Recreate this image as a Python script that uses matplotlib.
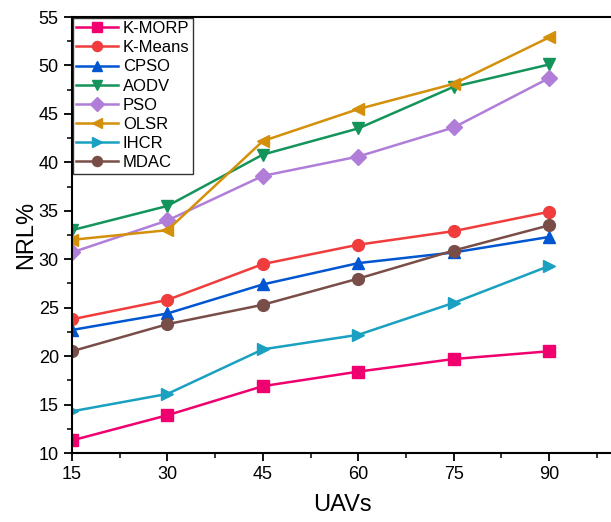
import matplotlib
matplotlib.use("Agg")
import matplotlib.pyplot as plt
from matplotlib.ticker import MultipleLocator

plt.rcParams['font.family'] = ['Liberation Sans', 'DejaVu Sans']

uavs = [15, 30, 45, 60, 75, 90]
k_morp = [11.3, 13.9, 16.9, 18.4, 19.7, 20.5]
k_means = [23.8, 25.8, 29.5, 31.5, 32.9, 34.9]
cpso = [22.7, 24.4, 27.4, 29.6, 30.7, 32.3]
aodv = [33.0, 35.5, 40.8, 43.5, 47.8, 50.1]
pso = [30.7, 34.0, 38.6, 40.6, 43.6, 48.7]
olsr = [32.0, 33.0, 42.2, 45.5, 48.1, 52.9]
ihcr = [14.3, 16.1, 20.7, 22.2, 25.5, 29.3]
mdac = [20.5, 23.3, 25.3, 28.0, 30.9, 33.5]

series = [
    ("K-MORP", k_morp, "#F0006E", "s"),
    ("K-Means", k_means, "#F03C3C", "o"),
    ("CPSO", cpso, "#0055D0", "^"),
    ("AODV", aodv, "#14945A", "v"),
    ("PSO", pso, "#B07ED8", "D"),
    ("OLSR", olsr, "#D4900A", "<"),
    ("IHCR", ihcr, "#1AA0C0", ">"),
    ("MDAC", mdac, "#7A4E48", "o"),
]

fig = plt.figure(figsize=(6.11, 5.22), dpi=100)
ax = fig.add_axes([72/611, 1-453/522, 1-72/611+0.003, (453-17)/522])

for name, vals, col, mk in series:
    ms = 8 if mk in ("D",) else 8.5
    ax.plot(uavs, vals, color=col, marker=mk, markersize=ms, linewidth=1.8, label=name)

ax.set_xlim(15, 100)
ax.set_ylim(10, 55)
ax.set_xticks(uavs)
ax.xaxis.set_minor_locator(MultipleLocator(7.5))
ax.yaxis.set_major_locator(MultipleLocator(5))
ax.yaxis.set_minor_locator(MultipleLocator(2.5))
ax.tick_params(which='major', direction='out', length=6, width=1.3, labelsize=13, colors='black')
ax.tick_params(which='minor', direction='out', length=3.5, width=1.1)
for s in ax.spines.values():
    s.set_linewidth(1.5)
ax.spines['right'].set_visible(False)

ax.set_xlabel("UAVs", fontsize=17, labelpad=8)
ax.set_ylabel("NRL%", fontsize=17, labelpad=1)

leg = ax.legend(loc='upper left', fontsize=12, frameon=True, fancybox=False,
                edgecolor='black', handlelength=2.5, handletextpad=0.3,
                labelspacing=0.25, borderpad=0.2, borderaxespad=0.05, markerscale=0.85)
leg.get_frame().set_linewidth(1.0)

fig.savefig("out.png", dpi=100)
